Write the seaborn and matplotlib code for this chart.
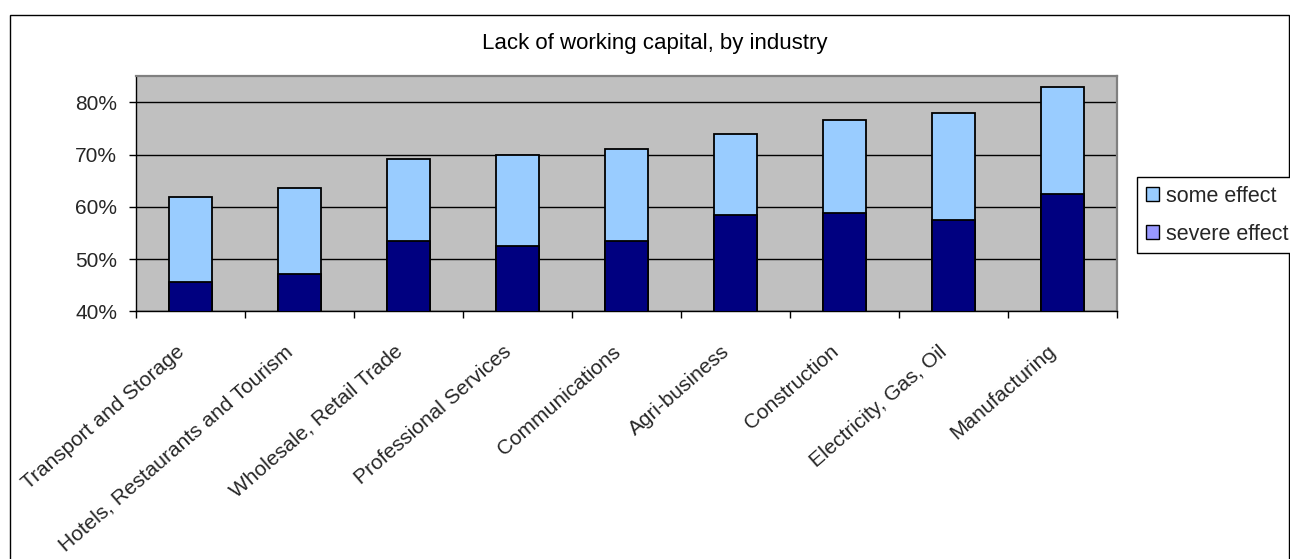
import matplotlib
matplotlib.use("Agg")
import matplotlib.pyplot as plt
import seaborn as sns
import pandas as pd
from matplotlib.patches import Patch, Rectangle
from matplotlib.ticker import FixedLocator, FuncFormatter
from matplotlib.transforms import ScaledTranslation

# Share of firms reporting the constraint, in percent
industries = [
    "Transport and Storage",
    "Hotels, Restaurants and Tourism",
    "Wholesale, Retail Trade",
    "Professional Services",
    "Communications",
    "Agri-business",
    "Construction",
    "Electricity, Gas, Oil",
    "Manufacturing",
]
severe_effect = [45.6, 47.2, 53.4, 52.5, 53.4, 58.4, 58.8, 57.4, 62.5]
some_effect = [16.2, 16.5, 15.7, 17.5, 17.6, 15.6, 17.8, 20.6, 20.4]
y_ticks = [40, 50, 60, 70, 80]
legend_labels = ["some effect", "severe effect"]
chart_title = "Lack of working capital, by industry"

sns.set_theme(style="white")
plt.rcParams["font.family"] = ["Liberation Sans", "DejaVu Sans"]

df = pd.DataFrame({"industry": industries,
                   "severe": severe_effect,
                   "some": some_effect})
df["total"] = df["severe"] + df["some"]

W, H = 1290, 559
fig = plt.figure(figsize=(W / 100, H / 100), dpi=100)
ax = fig.add_axes([136 / W, 1 - 311.3 / H, (1117 - 136) / W, (311.3 - 76.3) / H])

# stacked columns: full height in light blue, severe part drawn over it
sns.barplot(data=df, x="industry", y="total", color="#99CCFF", saturation=1,
            width=0.4, edgecolor="black", linewidth=1.3, ax=ax, zorder=2)
sns.barplot(data=df, x="industry", y="severe", color="#000080", saturation=1,
            width=0.4, edgecolor="black", linewidth=1.3, ax=ax, zorder=3)

ax.set_facecolor("#C0C0C0")
ax.set_ylim(40, 85)
ax.set_xlim(-0.5, len(industries) - 0.5)
ax.set_xlabel("")
ax.set_ylabel("")

ax.yaxis.set_major_locator(FixedLocator(y_ticks))
ax.yaxis.set_major_formatter(FuncFormatter(lambda v, _: f"{v:.0f}%"))
ax.yaxis.grid(True, color="black", linewidth=1)
ax.xaxis.grid(False)
ax.set_axisbelow(True)

for side in ("left", "bottom"):
    ax.spines[side].set_color("black")
    ax.spines[side].set_linewidth(1)
for side in ("top", "right"):
    ax.spines[side].set_color("#808080")
    ax.spines[side].set_linewidth(1.6)

ax.tick_params(axis="y", which="major", direction="out", length=5, width=1,
               color="black", labelsize=15, pad=8.5, left=True)
ax.set_xticks(range(len(industries)))
ax.set_xticklabels(industries, rotation=41, ha="right",
                   rotation_mode="anchor", fontsize=15)
ax.tick_params(axis="x", which="major", length=0, pad=22)
ax.xaxis.set_minor_locator(FixedLocator([i - 0.5 for i in range(len(industries) + 1)]))
ax.tick_params(axis="x", which="minor", direction="out", length=5, width=1,
               color="black", bottom=True)

# nudge the slanted category names slightly left of the column centres
shift = ScaledTranslation(-15 / 100, 0, fig.dpi_scale_trans)
for lab in ax.get_xticklabels():
    lab.set_transform(lab.get_transform() + shift)

fig.text(655 / W, 1 - 43 / H, chart_title, ha="center", va="center",
         fontsize=16, color="black")

handles = [Patch(facecolor="#99CCFF", edgecolor="black", linewidth=1),
           Patch(facecolor="#9999FF", edgecolor="black", linewidth=1)]
leg = fig.legend(handles, legend_labels, loc="upper left",
                 bbox_to_anchor=(1137 / W, 1 - 177 / H), frameon=True,
                 fancybox=False, edgecolor="black", framealpha=1,
                 fontsize=15.5, handlelength=0.6, handleheight=0.6,
                 handletextpad=0.35, labelspacing=0.8, borderpad=0.4,
                 borderaxespad=0)
leg.get_frame().set_linewidth(1)

# outer chart frame
fig.add_artist(Rectangle((9.5 / W, -0.05), (1289 - 9.5) / W, 1.05 - 14.5 / H,
                         transform=fig.transFigure, fill=False,
                         edgecolor="black", linewidth=1))

fig.savefig("out.png", dpi=100, facecolor="white")
